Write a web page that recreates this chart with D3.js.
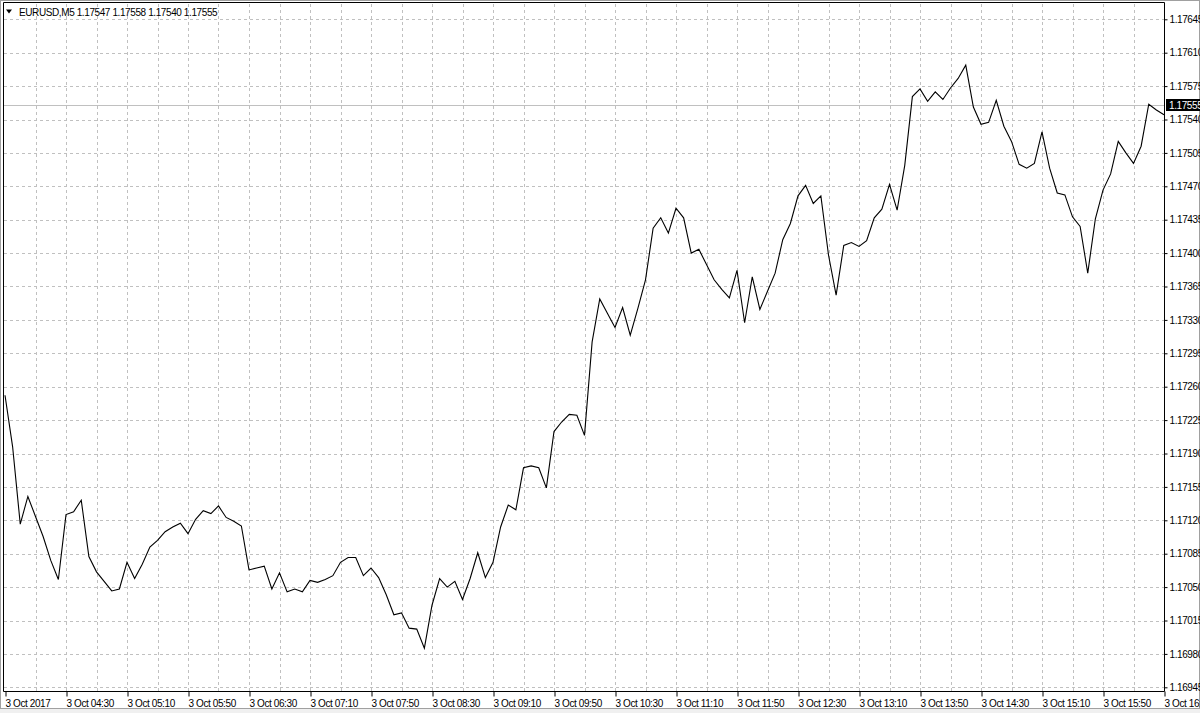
<!DOCTYPE html>
<html lang="en">
<head>
<meta charset="utf-8">
<title>EURUSD,M5</title>
<script src="https://d3js.org/d3.v7.min.js"></script>
<style>
  html, body { margin: 0; padding: 0; background: #fff; }
  svg text { font-family: "Liberation Sans", Arial, sans-serif; font-size: 10px; letter-spacing: -0.4px; fill: #000; }
  .grid line { stroke: #c0c0c0; stroke-dasharray: 3,3; shape-rendering: crispEdges; }
</style>
</head>
<body>
<div id="chart"></div>
<script>
// --- data -----------------------------------------------------------
var symbol = "EURUSD,M5";
var ohlc = [1.17547, 1.17558, 1.17540, 1.17555];   // header: open high low close
var lastPrice = 1.17555;
var firstBar = new Date(2017, 9, 3, 3, 50);        // 3 Oct 2017 03:50, M5 bars

// close of every 5 minute bar, 03:50 .. 16:30
var closes = [
  1.17251,1.17197,1.17116,1.17145,1.17124,1.17103,1.17078,1.17058,1.17126,1.17129,
  1.17141,1.17082,1.17066,1.17056,1.17046,1.17048,1.17076,1.17059,1.17074,1.17092,
  1.17099,1.17108,1.17113,1.17117,1.17106,1.17121,1.17130,1.17127,1.17135,1.17123,
  1.17119,1.17114,1.17068,1.17070,1.17072,1.17048,1.17065,1.17045,1.17048,1.17045,
  1.17057,1.17055,1.17058,1.17062,1.17076,1.17081,1.17081,1.17062,1.17070,1.17060,
  1.17042,1.17021,1.17023,1.17007,1.17006,1.16986,1.17031,1.17059,1.17050,1.17056,
  1.17037,1.17059,1.17086,1.17060,1.17076,1.17113,1.17136,1.17131,1.17175,1.17177,
  1.17175,1.17154,1.17213,1.17223,1.17231,1.17230,1.17209,1.17307,1.17352,1.17337,
  1.17322,1.17343,1.17314,1.17342,1.17372,1.17426,1.17437,1.17421,1.17447,1.17437,
  1.17400,1.17404,1.17388,1.17372,1.17362,1.17353,1.17382,1.17327,1.17375,1.17341,
  1.17360,1.17379,1.17414,1.17431,1.17460,1.17471,1.17452,1.17460,1.17398,1.17356,
  1.17408,1.17411,1.17407,1.17413,1.17437,1.17446,1.17472,1.17445,1.17492,1.17564,
  1.17572,1.17559,1.17569,1.17561,1.17573,1.17583,1.17597,1.17553,1.17535,1.17537,
  1.17560,1.17533,1.17517,1.17493,1.17489,1.17494,1.17527,1.17489,1.17463,1.17461,
  1.17438,1.17428,1.17379,1.17436,1.17466,1.17483,1.17517,1.17505,1.17494,1.17512,
  1.17556,1.17550,1.17545
];

// price scale labels
var priceTicks = [
  1.16945,1.16980,1.17015,1.17050,1.17085,1.17120,1.17155,1.17190,1.17225,1.17260,
  1.17295,1.17330,1.17365,1.17400,1.17435,1.17470,1.17505,1.17540,1.17575,1.17610,1.17645
];

// --- layout ---------------------------------------------------------
var width = 1200, height = 713;
var plotLeft = 5, plotRight = 1164, plotTop = 19.3, plotBottom = 687.3, axisY = 691.5;

var bars = closes.map(function(c, i) {
  return { t: d3.timeMinute.offset(firstBar, i * 5), c: c };
});
var lastBar = bars[bars.length - 1].t;

var svg = d3.select("#chart").append("svg")
    .attr("width", width)
    .attr("height", height);

var x = d3.scaleTime()
    .domain([firstBar, lastBar])
    .range([plotLeft, plotRight]);

var y = d3.scaleLinear()
    .domain([priceTicks[0], priceTicks[priceTicks.length - 1]])
    .range([plotBottom, plotTop]);

// grid
var grid = svg.append("g").attr("class", "grid");
var gridTimes = d3.range(4, bars.length - 1, 4).map(function(i) { return bars[i].t; });

grid.selectAll(".hg")
  .data(priceTicks)
  .enter().append("line")
    .attr("x1", 4).attr("x2", plotRight)
    .attr("y1", function(d) { return Math.round(y(d)) + 0.5; })
    .attr("y2", function(d) { return Math.round(y(d)) + 0.5; });

grid.selectAll(".vg")
  .data(gridTimes)
  .enter().append("line")
    .attr("y1", 4).attr("y2", axisY)
    .attr("x1", function(d) { return Math.round(x(d)) + 0.5; })
    .attr("x2", function(d) { return Math.round(x(d)) + 0.5; });

// current price line
svg.append("line")
    .attr("x1", 4).attr("x2", plotRight)
    .attr("y1", Math.round(y(lastPrice)) + 0.5)
    .attr("y2", Math.round(y(lastPrice)) + 0.5)
    .attr("stroke", "#c0c0c0")
    .attr("stroke-width", 1);

// price line
var line = d3.line()
    .x(function(d) { return x(d.t); })
    .y(function(d) { return y(d.c); });

svg.append("path")
    .datum(bars)
    .attr("fill", "none")
    .attr("stroke", "#000")
    .attr("stroke-width", 1.1)
    .attr("d", line);

// frame
svg.append("rect")
    .attr("x", 0.5).attr("y", 0.5)
    .attr("width", width - 1).attr("height", 708)
    .attr("fill", "none").attr("stroke", "#a0a0a0");
svg.append("path")
    .attr("d", "M3.5," + axisY + "V2.5H" + (plotRight + 0.5) + "V" + axisY + "H3.5")
    .attr("fill", "none").attr("stroke", "#000");
svg.append("rect")
    .attr("x", 0).attr("y", 709)
    .attr("width", width).attr("height", 4)
    .attr("fill", "#f0f0f0");

// right price axis
var yAxis = d3.axisRight(y)
    .tickValues(priceTicks)
    .tickSize(3)
    .tickPadding(2)
    .tickFormat(function(d) { return d.toFixed(5); });

var ya = svg.append("g")
    .attr("transform", "translate(" + (plotRight + 0.5) + ",0)")
    .call(yAxis);
ya.select(".domain").remove();
ya.attr("font-family", null).attr("font-size", null);

// last price label
var ly = Math.round(y(lastPrice));
svg.append("rect")
    .attr("x", plotRight + 2).attr("y", ly - 6)
    .attr("width", width - plotRight - 2).attr("height", 12)
    .attr("fill", "#000");
svg.append("text")
    .attr("x", plotRight + 5).attr("y", ly)
    .attr("dy", "0.35em")
    .style("fill", "#fff")
    .text(lastPrice.toFixed(5));

// bottom time axis
var fmt = d3.timeFormat("%H:%M");
var labelTimes = d3.range(0, bars.length, 8).map(function(i) { return bars[i].t; });

var xAxis = d3.axisBottom(x)
    .tickValues(labelTimes)
    .tickSize(5)
    .tickPadding(3)
    .tickFormat(function(d, i) { return i === 0 ? "3 Oct 2017" : "3 Oct " + fmt(d); });

var xa = svg.append("g")
    .attr("transform", "translate(0," + axisY + ")")
    .call(xAxis);
xa.select(".domain").remove();
xa.attr("font-family", null).attr("font-size", null);
xa.selectAll(".tick line").attr("transform", "translate(0.5,0)");
xa.selectAll("text").attr("text-anchor", "start").attr("x", 0);

// header
svg.append("path")
    .attr("d", "M6,9.5H12L9,13.5Z")
    .attr("fill", "#000");
svg.append("text")
    .attr("x", 19).attr("y", 16)
    .text(symbol + "  " + ohlc.map(function(v) { return v.toFixed(5); }).join(" "));
</script>
</body>
</html>
